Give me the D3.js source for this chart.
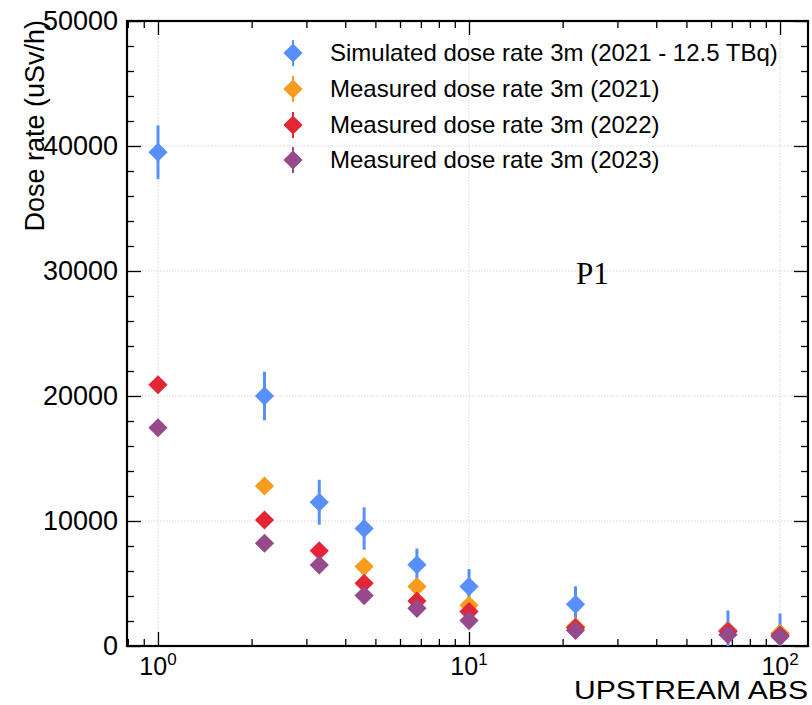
<!DOCTYPE html>
<html>
<head>
<meta charset="utf-8">
<script src="https://cdn.jsdelivr.net/npm/d3@7"></script>
<style>
  html, body { margin: 0; padding: 0; background: #fff; }
  svg { display: block; }
</style>
</head>
<body>
<svg id="chart" width="812" height="705"></svg>
<script>
// ---- data ----
const xValues = [1, 2.2, 3.3, 4.6, 6.8, 10, 22, 68, 100];
const simulated = [39500, 20000, 11500, 9400, 6500, 4750, 3330, 1250, 1000];
const simulatedErr = [2150, 1950, 1800, 1700, 1300, 1400, 1450, 1600, 1600];
const measured2021 = [null, 12800, null, 6350, 4750, 3250, 1550, 1200, 1000];
const measured2022 = [20900, 10080, 7620, 5020, 3600, 2750, 1450, 1150, 850];
const measured2023 = [17460, 8220, 6480, 4030, 3010, 2030, 1250, 900, 750];
const seriesNames = [
  "Simulated dose rate 3m (2021 - 12.5 TBq)",
  "Measured dose rate 3m (2021)",
  "Measured dose rate 3m (2022)",
  "Measured dose rate 3m (2023)"
];
const yTicks = [0, 10000, 20000, 30000, 40000, 50000];
const xTickExponents = [0, 1, 2];
const xAxisTitle = "UPSTREAM ABS";
const yAxisTitle = "Dose rate (uSv/h)";
const annotation = "P1";

// ---- layout ----
const SANS = '"Liberation Sans", Arial, Helvetica, sans-serif';
const SERIF = '"Liberation Serif", "Times New Roman", serif';
const colors = ["#5790fc", "#f89c20", "#e42536", "#964a8b"];
const pL = 127, pR = 808, pT = 21, pB = 646;
const svg = d3.select("#chart");

const x = d3.scaleLog().domain([0.795, 123]).range([pL, pR]);
const y = d3.scaleLinear().domain([0, 50000]).range([pB, pT]);

svg.append("defs").append("clipPath").attr("id", "plotclip")
  .append("rect").attr("x", pL).attr("y", pT).attr("width", pR - pL).attr("height", pB - pT);

// grid
const grid = svg.append("g");
grid.selectAll("line.gx").data(xTickExponents.map(e => Math.pow(10, e))).join("line")
  .attr("x1", d => x(d)).attr("x2", d => x(d)).attr("y1", pT).attr("y2", pB)
  .attr("stroke", "#d8d8d8").attr("stroke-width", 1).attr("stroke-dasharray", "1.5,1.5");
grid.selectAll("line.gy").data(yTicks.slice(1, -1)).join("line")
  .attr("x1", pL).attr("x2", pR).attr("y1", d => y(d)).attr("y2", d => y(d))
  .attr("stroke", "#d8d8d8").attr("stroke-width", 1).attr("stroke-dasharray", "1.5,1.5");

// minor tick values
const yMinor = d3.range(0, 50001, 2000).filter(v => v % 10000 !== 0);
const xMinor = [];
[0.1, 1, 10].forEach(b => { for (let k = 2; k <= 9; k++) { const v = b * k; if (v > 0.795 && v < 123) xMinor.push(v); } });
const xMajor = xTickExponents.map(e => Math.pow(10, e));

function styleAxis(g) {
  g.select(".domain").remove();
  g.selectAll("line").attr("stroke", "#000").attr("stroke-width", 1.3);
}

// left axis
svg.append("g").attr("transform", `translate(${pL},0)`)
  .call(d3.axisLeft(y).tickValues(yTicks).tickSizeInner(-14).tickSizeOuter(0).tickPadding(9).tickFormat(d3.format("d")))
  .call(styleAxis)
  .call(g => g.selectAll("text").attr("font-size", 27).attr("font-family", SANS).attr("fill", "#000"));
svg.append("g").attr("transform", `translate(${pL},0)`)
  .call(d3.axisLeft(y).tickValues(yMinor).tickSizeInner(-7).tickSizeOuter(0).tickFormat(""))
  .call(styleAxis);
// right axis
svg.append("g").attr("transform", `translate(${pR},0)`)
  .call(d3.axisRight(y).tickValues(yTicks).tickSizeInner(-14).tickSizeOuter(0).tickFormat(""))
  .call(styleAxis);
svg.append("g").attr("transform", `translate(${pR},0)`)
  .call(d3.axisRight(y).tickValues(yMinor).tickSizeInner(-7).tickSizeOuter(0).tickFormat(""))
  .call(styleAxis);
// bottom axis
svg.append("g").attr("transform", `translate(0,${pB})`)
  .call(d3.axisBottom(x).tickValues(xMajor).tickSizeInner(-14).tickSizeOuter(0).tickFormat(""))
  .call(styleAxis);
svg.append("g").attr("transform", `translate(0,${pB})`)
  .call(d3.axisBottom(x).tickValues(xMinor).tickSizeInner(-7).tickSizeOuter(0).tickFormat(""))
  .call(styleAxis);
// top axis
svg.append("g").attr("transform", `translate(0,${pT})`)
  .call(d3.axisTop(x).tickValues(xMajor).tickSizeInner(-14).tickSizeOuter(0).tickFormat(""))
  .call(styleAxis);
svg.append("g").attr("transform", `translate(0,${pT})`)
  .call(d3.axisTop(x).tickValues(xMinor).tickSizeInner(-7).tickSizeOuter(0).tickFormat(""))
  .call(styleAxis);

// x tick labels 10^n
xTickExponents.forEach(e => {
  const t = svg.append("text").attr("x", x(Math.pow(10, e))).attr("y", 675)
    .attr("text-anchor", "middle").attr("font-size", 25).attr("font-family", SANS);
  t.append("tspan").text("10");
  t.append("tspan").attr("font-size", 17).attr("dy", -10).text(String(e));
});

// frame
svg.append("rect").attr("x", pL).attr("y", pT).attr("width", pR - pL).attr("height", pB - pT)
  .attr("fill", "none").attr("stroke", "#000").attr("stroke-width", 2.2);

// axis titles
svg.append("text").attr("transform", `translate(44,${pT - 1}) rotate(-90)`)
  .attr("text-anchor", "end").attr("font-size", 27).attr("font-family", SANS).text(yAxisTitle);
svg.append("text").attr("x", pR).attr("y", 699).attr("text-anchor", "end")
  .attr("font-size", 25).attr("font-family", SANS)
  .attr("textLength", 234).attr("lengthAdjust", "spacingAndGlyphs").text(xAxisTitle);

// annotation
svg.append("text").attr("x", 576).attr("y", 284).attr("font-size", 31)
  .attr("font-family", SERIF).text(annotation);

// data
const diamond = d3.symbol().type(d3.symbolSquare).size(185);
const allSeries = [
  { vals: simulated, err: simulatedErr },
  { vals: measured2021, err: null },
  { vals: measured2022, err: null },
  { vals: measured2023, err: null }
];
const dataLayer = svg.append("g").attr("clip-path", "url(#plotclip)");
allSeries.forEach((s, i) => {
  const pts = xValues.map((xv, j) => ({ x: xv, y: s.vals[j], e: s.err ? s.err[j] : 0 })).filter(d => d.y != null);
  const g = dataLayer.append("g");
  if (s.err) {
    g.selectAll("line").data(pts).join("line")
      .attr("x1", d => x(d.x)).attr("x2", d => x(d.x))
      .attr("y1", d => y(d.y + d.e)).attr("y2", d => y(d.y - d.e))
      .attr("stroke", colors[i]).attr("stroke-width", 3);
  }
  g.selectAll("path").data(pts).join("path")
    .attr("d", diamond)
    .attr("transform", d => `translate(${x(d.x)},${y(d.y)}) rotate(45)`)
    .attr("fill", colors[i]);
});

// legend
const legendY = [53, 89, 125, 160];
seriesNames.forEach((name, i) => {
  const ly = legendY[i];
  svg.append("line").attr("x1", 293).attr("x2", 293).attr("y1", ly - 13).attr("y2", ly + 13)
    .attr("stroke", colors[i]).attr("stroke-width", 2);
  svg.append("path").attr("d", diamond).attr("transform", `translate(293,${ly}) rotate(45)`).attr("fill", colors[i]);
  svg.append("text").attr("x", 330).attr("y", ly + 8).attr("font-size", 24).attr("font-family", SANS).text(name);
});
</script>
</body>
</html>
